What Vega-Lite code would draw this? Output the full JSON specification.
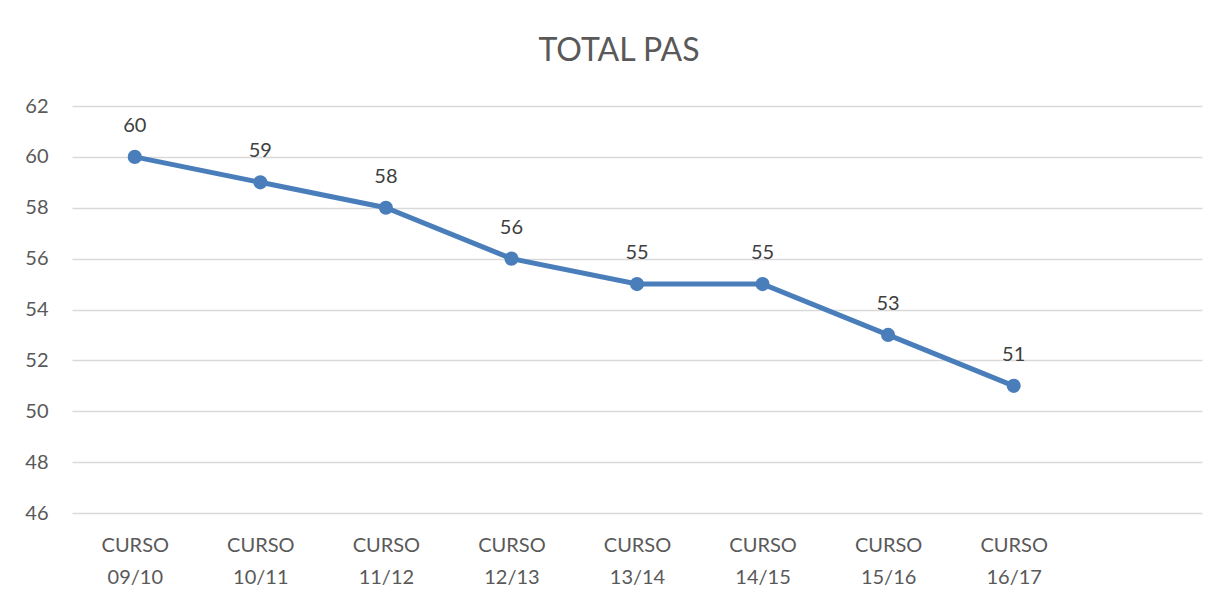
{
  "$schema": "https://vega.github.io/schema/vega-lite/v6.json",
  "width": 1130,
  "height": 407,
  "autosize": {"type": "none"},
  "padding": {"left": 72, "top": 106, "right": 30, "bottom": 88},
  "background": "white",
  "title": {
    "text": "TOTAL PAS",
    "font": "Lato",
    "fontSize": 32,
    "fontWeight": "normal",
    "color": "#595959",
    "anchor": "middle",
    "dx": -18,
    "offset": 28
  },
  "data": {
    "values": [
      {"curso": "CURSO 09/10", "total": 60},
      {"curso": "CURSO 10/11", "total": 59},
      {"curso": "CURSO 11/12", "total": 58},
      {"curso": "CURSO 12/13", "total": 56},
      {"curso": "CURSO 13/14", "total": 55},
      {"curso": "CURSO 14/15", "total": 55},
      {"curso": "CURSO 15/16", "total": 53},
      {"curso": "CURSO 16/17", "total": 51}
    ]
  },
  "encoding": {
    "x": {
      "field": "curso",
      "type": "ordinal",
      "sort": null,
      "scale": {
        "type": "point",
        "padding": 0.5,
        "domain": ["CURSO 09/10", "CURSO 10/11", "CURSO 11/12", "CURSO 12/13", "CURSO 13/14", "CURSO 14/15", "CURSO 15/16", "CURSO 16/17", " "]
      },
      "axis": {
        "title": null,
        "labelAngle": 0,
        "labelExpr": "split(datum.value, ' ')",
        "labelLineHeight": 32,
        "labelFont": "Lato",
        "labelFontSize": 20,
        "labelColor": "#595959",
        "labelPadding": 22,
        "labelBaseline": "top",
        "ticks": false,
        "domain": false,
        "grid": false
      }
    },
    "y": {
      "field": "total",
      "type": "quantitative",
      "scale": {"domain": [46, 62], "nice": false, "zero": false},
      "axis": {
        "title": null,
        "values": [46, 48, 50, 52, 54, 56, 58, 60, 62],
        "labelFont": "Lato",
        "labelFontSize": 20,
        "labelColor": "#595959",
        "labelPadding": 24,
        "ticks": false,
        "domain": false,
        "grid": true,
        "gridColor": "#d9d9d9",
        "gridWidth": 1.5
      }
    }
  },
  "layer": [
    {
      "mark": {"type": "line", "color": "#4a7ebb", "strokeWidth": 5}
    },
    {
      "mark": {"type": "point", "filled": true, "opacity": 1, "color": "#4a7ebb", "size": 200}
    },
    {
      "mark": {"type": "text", "font": "Lato", "fontSize": 20, "color": "#404040", "baseline": "alphabetic", "dy": -25},
      "encoding": {"text": {"field": "total", "type": "quantitative"}}
    }
  ],
  "config": {"view": {"stroke": null}}
}
